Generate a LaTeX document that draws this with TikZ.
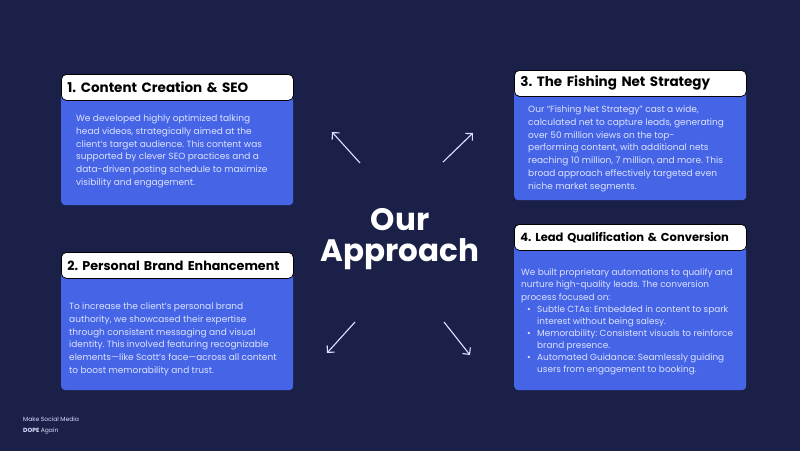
\documentclass[tikz,border=0pt]{standalone}
\usepackage{fontspec}
\setmainfont{Poppins}
\usetikzlibrary{arrows.meta,positioning}
\definecolor{navybg}{HTML}{1B2049}
\definecolor{cardblue}{HTML}{4565E6}
\definecolor{cardtext}{HTML}{DDE3FF}
\frenchspacing

\begin{document}
\begin{tikzpicture}[x=1pt,y=-1pt,
    cardbody/.style={fill=cardblue,rounded corners=4pt,anchor=north west,inner sep=0pt,minimum width=232pt},
    cardhead/.style={draw=black,line width=0.8pt,fill=white,rounded corners=5pt,anchor=north west,
        inner xsep=6pt,inner ysep=0pt,text width=220pt,minimum height=26pt,align=left,
        font=\bfseries\fontsize{13.5}{15}\selectfont},
    cardtxt/.style={text=cardtext,inner sep=0pt,anchor=north west,align=left,
        font=\fontsize{9}{12.7}\selectfont},
    spoke/.style={draw=cardtext,line width=1.1pt,-{Straight Barb[length=5pt,width=10pt]}}]
    \fill[navybg] (0,0) rectangle (800,451);
    \useasboundingbox (0,0) rectangle (800,451);

    % left column
    \node[cardbody,minimum height=118pt] (body1) at (61,87) {};
    \node[cardhead] (head1) at (61,74) {1. Content Creation \& SEO};
    \node[cardtxt,below right=14pt and 15pt of head1.south west] (txt1) {We developed highly optimized talking\\
        head videos, strategically aimed at the\\
        client’s target audience. This content was\\
        supported by clever SEO practices and a\\
        data-driven posting schedule to maximize\\
        visibility and engagement.};

    \node[cardbody,minimum height=125pt] (body2) at (61,265) {};
    \node[cardhead,font=\bfseries\fontsize{12.7}{15}\selectfont] (head2) at (61,252) {2. Personal Brand Enhancement};
    \node[cardtxt,below right=24pt and 8pt of head2.south west] (txt2) {To increase the client’s personal brand\\
        authority, we showcased their expertise\\
        through consistent messaging and visual\\
        identity. This involved featuring recognizable\\
        elements—like Scott’s face—across all content\\
        to boost memorability and trust.};

    % right column
    \node[cardbody,minimum height=117pt] (body3) at (514,83) {};
    \node[cardhead] (head3) at (514,70) {3. The Fishing Net Strategy};
    \node[cardtxt,below right=9pt and 14pt of head3.south west] (txt3) {Our “Fishing Net Strategy” cast a wide,\\
        calculated net to capture leads, generating\\
        over 50 million views on the top-\\
        performing content, with additional nets\\
        reaching 10 million, 7 million, and more. This\\
        broad approach effectively targeted even\\
        niche market segments.};

    \node[cardbody,minimum height=153pt] (body4) at (514,237) {};
    \node[cardhead,font=\bfseries\fontsize{11.5}{14}\selectfont] (head4) at (514,224) {4. Lead Qualification \& Conversion};
    \node[cardtxt,below right=18pt and 7pt of head4.south west,font=\fontsize{8.9}{12.1}\selectfont] (txt4) {We built proprietary automations to qualify and\\
        nurture high-quality leads. The conversion\\
        process focused on:\\
        \makebox[16pt][l]{\hspace{6pt}•}Subtle CTAs: Embedded in content to spark\\
        \hspace{16pt}interest without being salesy.\\
        \makebox[16pt][l]{\hspace{6pt}•}Memorability: Consistent visuals to reinforce\\
        \hspace{16pt}brand presence.\\
        \makebox[16pt][l]{\hspace{6pt}•}Automated Guidance: Seamlessly guiding\\
        \hspace{16pt}users from engagement to booking.};

    % centre
    \node[text=white,align=center,font=\bfseries\fontsize{31}{31}\selectfont] (title) at (400,239) {Our\\Approach};
    \coordinate (nwA) at (360,163); \coordinate (nwB) at (332,132);
    \coordinate (neA) at (443,162); \coordinate (neB) at (473,133);
    \coordinate (swA) at (355,322); \coordinate (swB) at (327,353);
    \coordinate (seA) at (444,322); \coordinate (seB) at (470,355);
    \foreach \d in {nw,ne,sw,se}{
        \draw[spoke] (\d A) -- (\d B);
    }

    \node[text=cardtext,anchor=north west,inner sep=0pt,align=left,font=\fontsize{6}{10.5}\selectfont] (brand) at (23,417) {Make Social Media\\\textbf{DOPE} Again};
\end{tikzpicture}
\end{document}
